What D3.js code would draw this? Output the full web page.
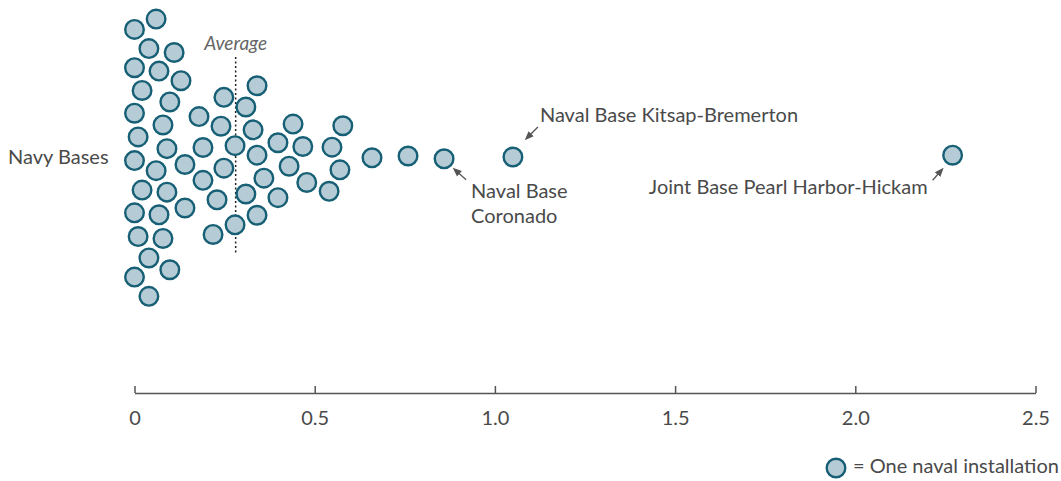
<!DOCTYPE html>
<html><head><meta charset="utf-8">
<script src="https://cdn.jsdelivr.net/npm/d3@7"></script>
<style>body{margin:0;background:#fff}svg{display:block}</style>
</head><body><svg id="c" width="1061" height="481"></svg>
<script>
const category = "Navy Bases";
const values = [0.060,0.010,0.040,0.098,0.079,0.000,0.040,0.140,0.218,0.090,
  0.309,0.340,0.429,0.000,0.021,0.129,0.190,0.248,0.279,0.068,
  0.000,0.190,0.240,0.340,0.398,0.467,0.540,0.570,0.578,0.659,
  0.759,0.859,1.050,2.270,0.060,0.098,0.140,0.000,0.179,0.248,
  0.309,0.340,0.359,0.398,0.478,0.548,0.440,0.021,0.000,0.079,
  0.279,0.329,0.229,0.000,0.040,0.090,0.110,0.010,0.068];
const tickValues = [0, 0.5, 1.0, 1.5, 2.0, 2.5];
const tickLabels = ["0", "0.5", "1.0", "1.5", "2.0", "2.5"];
const annotationNames = ["Naval Base Kitsap-Bremerton", "Naval Base\nCoronado", "Joint Base Pearl Harbor-Hickam"];
const annotationValues = [1.050, 0.859, 2.270];
const averageLabel = "Average";
const legendLabel = "= One naval installation";

const svg = d3.select("#c");
const FONT = "Lato, 'Open Sans', sans-serif";
const textColor = "#4a4a4a";
const fill = "#b5ccd6", stroke = "#165f75";
const R = 9.3;
const cy = 157;

const x = d3.scaleLinear().domain([0, 2.5]).range([134.5, 1035.5]);

// beeswarm layout (deterministic force simulation)
const nodes = values.map((v, i) => ({v, fx: x(v), y: cy + (((i * 37) % 23) - 11) * 1.5}));
const sim = d3.forceSimulation(nodes)
  .force("y", d3.forceY(cy).strength(0.03))
  .force("collide", d3.forceCollide(12).iterations(2))
  .stop();
for (let i = 0; i < 400; i++) sim.tick();

// axis
const axisY = 393;
const axis = d3.axisBottom(x).tickValues(tickValues).tickSize(0)
  .tickFormat((d, i) => tickLabels[i]).tickPadding(18);
const gA = svg.append("g").attr("transform", `translate(0,${axisY})`).call(axis);
gA.select(".domain").attr("stroke", "#555").attr("stroke-width", 1.5);
gA.selectAll(".tick line").remove();
gA.selectAll(".tick").append("line").attr("y1", 0).attr("y2", -7)
  .attr("stroke", "#555").attr("stroke-width", 1.5);
gA.selectAll(".tick text").attr("font-family", FONT).attr("font-size", 20)
  .attr("fill", textColor);

// category label
svg.append("text").attr("x", 8).attr("y", cy + 7).text(category)
  .attr("font-family", FONT).attr("font-size", 20).attr("fill", textColor);

// average line
const avg = d3.mean(values);
svg.append("line").attr("x1", x(avg)).attr("x2", x(avg)).attr("y1", 57).attr("y2", 255)
  .attr("stroke", "#222").attr("stroke-width", 1.5).attr("stroke-dasharray", "2,2.5");
svg.append("text").attr("x", x(avg)).attr("y", 50).attr("text-anchor", "middle")
  .attr("font-family", FONT).attr("font-style", "italic").attr("font-size", 19)
  .attr("fill", "#666").text(averageLabel);

// points
svg.append("g").selectAll("circle").data(nodes).join("circle")
  .attr("cx", d => d.x).attr("cy", d => d.y).attr("r", R)
  .attr("fill", fill).attr("stroke", stroke).attr("stroke-width", 2.4);

// annotations
const defs = svg.append("defs");
defs.append("marker").attr("id", "ah").attr("viewBox", "0 0 10 10")
  .attr("refX", 5).attr("refY", 5).attr("markerWidth", 7).attr("markerHeight", 7)
  .attr("orient", "auto-start-reverse")
  .append("path").attr("d", "M0,1 L10,5 L0,9 Z").attr("fill", "#555");

function findNode(v) { return nodes.find(n => Math.abs(n.v - v) < 1e-9); }
const annLayout = [
  {tx: 27, ty: -35, anchor: "start", a1: [25, -30], a2: [15, -20]},
  {tx: 27, ty: 39, anchor: "start", a1: [22, 21], a2: [12, 12]},
  {tx: -25, ty: 39, anchor: "end", a1: [-20, 25], a2: [-12, 16]}
];
annotationNames.forEach((name, i) => {
  const n = findNode(annotationValues[i]);
  const L = annLayout[i];
  const t = svg.append("text").attr("x", n.x + L.tx).attr("y", n.y + L.ty)
    .attr("text-anchor", L.anchor).attr("font-family", FONT).attr("font-size", 20)
    .attr("fill", textColor);
  name.split("\n").forEach((line, j) => {
    t.append("tspan").attr("x", n.x + L.tx).attr("dy", j ? 25 : 0).text(line);
  });
  svg.append("line").attr("x1", n.x + L.a1[0]).attr("y1", n.y + L.a1[1])
    .attr("x2", n.x + L.a2[0]).attr("y2", n.y + L.a2[1])
    .attr("stroke", "#555").attr("stroke-width", 1.3).attr("marker-end", "url(#ah)");
});

// legend
svg.append("circle").attr("cx", 836).attr("cy", 468).attr("r", R)
  .attr("fill", fill).attr("stroke", stroke).attr("stroke-width", 2.4);
svg.append("text").attr("x", 853).attr("y", 473).text(legendLabel)
  .attr("font-family", FONT).attr("font-size", 20).attr("fill", textColor);
</script></body></html>
